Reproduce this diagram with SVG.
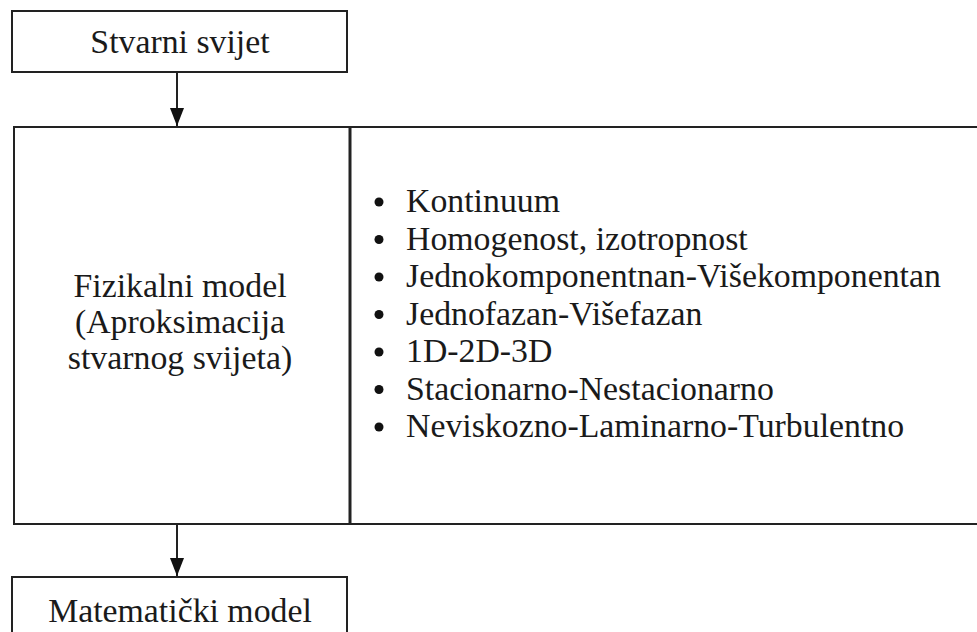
<svg xmlns="http://www.w3.org/2000/svg" width="977" height="632" viewBox="0 0 977 632">
<defs>
<style>
.box{fill:#fff;stroke:#222;stroke-width:2}
.line{fill:none;stroke:#222;stroke-width:2}
.t{font-family:"Liberation Serif","Times New Roman",serif;font-size:33.8px;fill:#1a1a1a}
.c{text-anchor:middle}
</style>
<marker id="arr" viewBox="0 0 18 14" refX="18" refY="7" markerWidth="18" markerHeight="14" markerUnits="userSpaceOnUse" orient="auto">
<path d="M0,0 L18,7 L0,14 z" fill="#111"/>
</marker>
</defs>
<rect width="977" height="632" fill="#fff"/>
<g id="stvarni">
<rect class="box" x="12" y="11" width="335" height="61"/>
<text class="t c" x="180" y="53">Stvarni svijet</text>
</g>
<g id="fizikalni">
<path class="line" d="M980,127 H14 V524 H980"/>
<line x1="350" y1="127" x2="350" y2="524" stroke="#222" stroke-width="3"/>
<text class="t c" x="180" y="297">Fizikalni model</text>
<text class="t c" x="180" y="333">(Aproksimacija</text>
<text class="t c" x="180" y="369">stvarnog svijeta)</text>
</g>
<g id="lista">
<g fill="#111">
<circle cx="379" cy="202" r="4.5"/>
<circle cx="379" cy="239.5" r="4.5"/>
<circle cx="379" cy="277" r="4.5"/>
<circle cx="379" cy="314.5" r="4.5"/>
<circle cx="379" cy="352" r="4.5"/>
<circle cx="379" cy="389.5" r="4.5"/>
<circle cx="379" cy="427" r="4.5"/>
</g>
<text class="t" x="406" y="212">Kontinuum</text>
<text class="t" x="406" y="249.5">Homogenost, izotropnost</text>
<text class="t" x="406" y="287">Jednokomponentnan-Višekomponentan</text>
<text class="t" x="406" y="324.5">Jednofazan-Višefazan</text>
<text class="t" x="406" y="362">1D-2D-3D</text>
<text class="t" x="406" y="399.5">Stacionarno-Nestacionarno</text>
<text class="t" x="406" y="437">Neviskozno-Laminarno-Turbulentno</text>
</g>
<g id="matematicki">
<rect class="box" x="12" y="577" width="335" height="70"/>
<text class="t c" x="180" y="622">Matematički model</text>
</g>
<g id="connectors">
<line class="line" x1="177" y1="72" x2="177" y2="126" marker-end="url(#arr)"/>
<line class="line" x1="177" y1="525" x2="177" y2="576" marker-end="url(#arr)"/>
</g>
</svg>
